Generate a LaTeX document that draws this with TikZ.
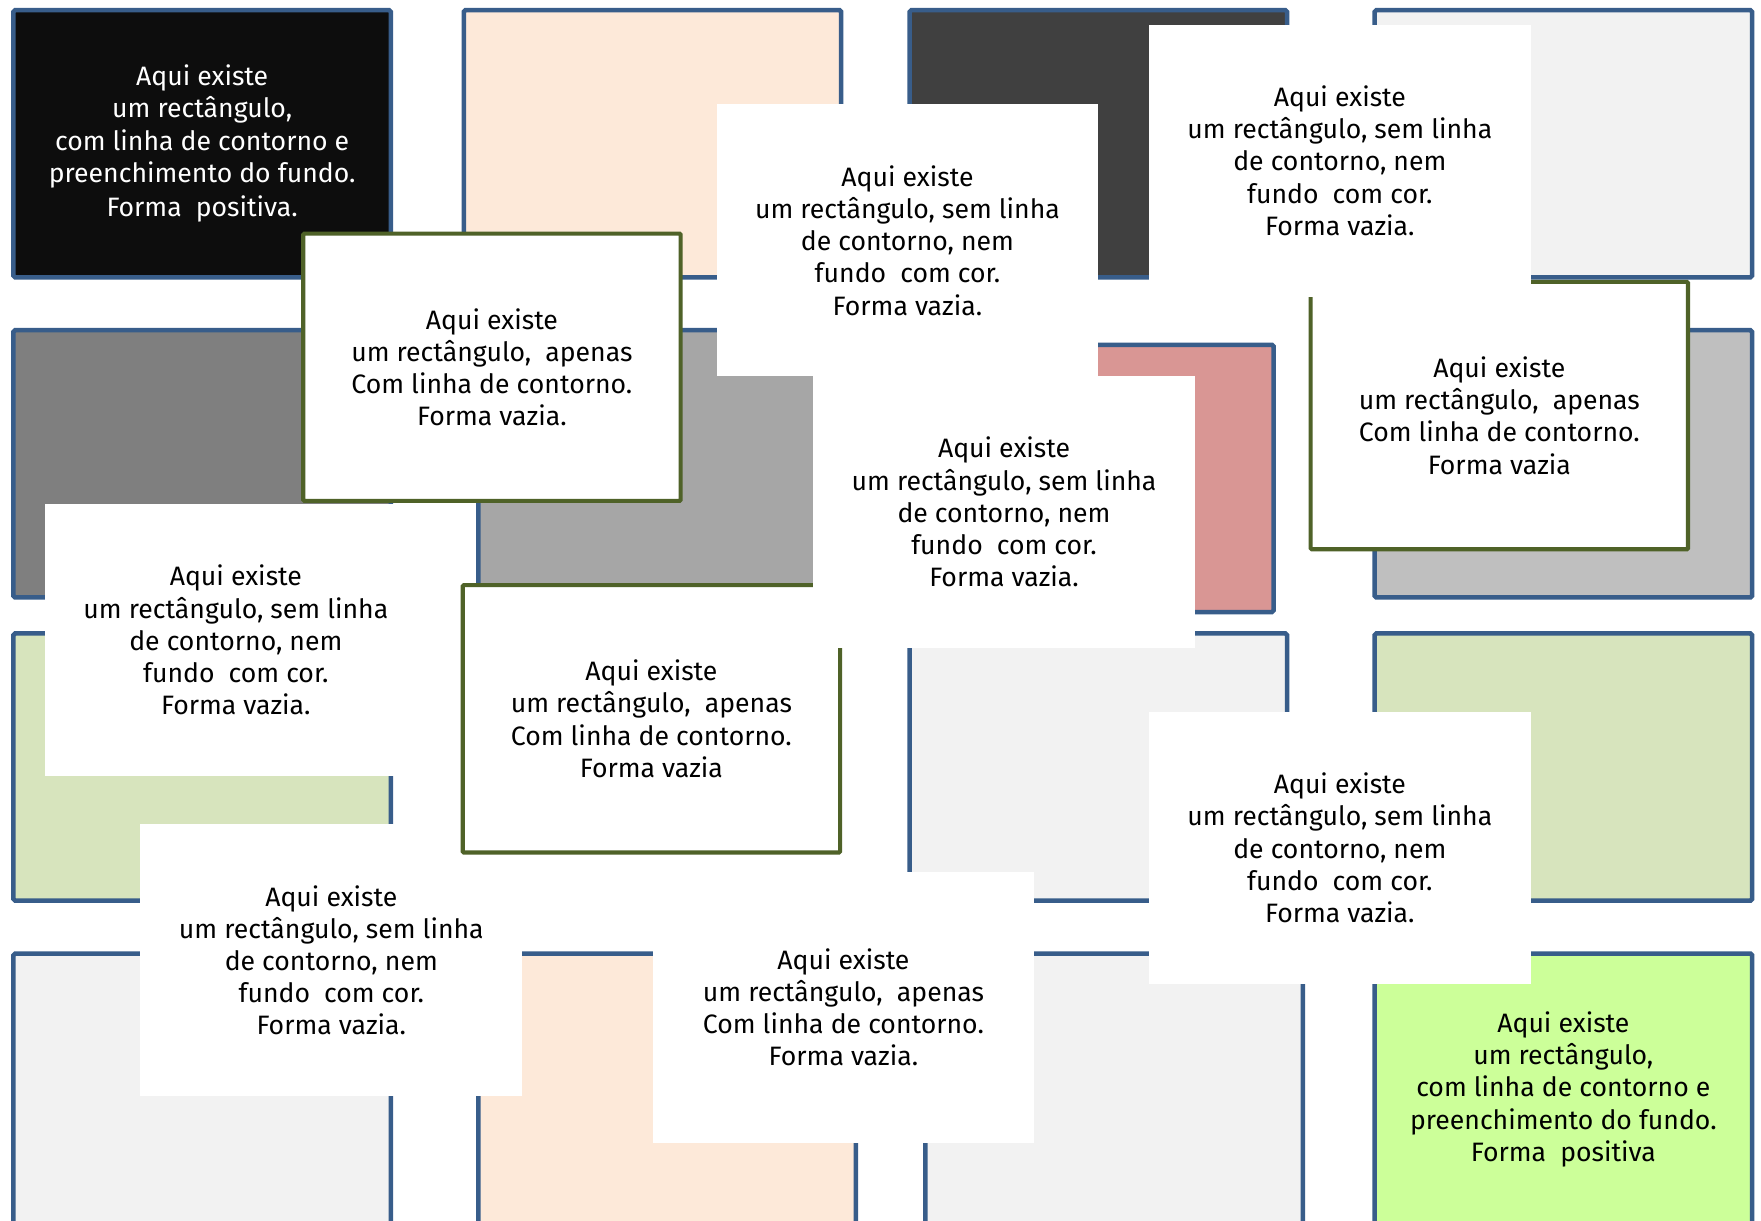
\documentclass[tikz,border=0pt]{standalone}
\usepackage{fontspec}
\setmainfont{Fira Sans}
\newcommand\txtfont{\fontsize{23.7}{28.7}\selectfont}
\definecolor{bblue}{HTML}{385D8A}
\definecolor{oborder}{HTML}{4F6228}
\definecolor{cblack}{HTML}{0D0D0D}
\definecolor{cpeach}{HTML}{FDE9D9}
\definecolor{cdark}{HTML}{404040}
\definecolor{clight}{HTML}{F2F2F2}
\definecolor{cgrayA}{HTML}{7F7F7F}
\definecolor{cgrayB}{HTML}{A6A6A6}
\definecolor{cpink}{HTML}{D99694}
\definecolor{cgrayC}{HTML}{BFBFBF}
\definecolor{cgreen}{HTML}{D7E4BD}
\definecolor{clime}{HTML}{CCFF99}
\begin{document}
\begin{tikzpicture}[x=1pt,y=-1pt,
  bg/.style={draw=bblue, line width=4pt, rounded corners=1.5pt, minimum width=336pt, minimum height=238pt, anchor=north west, inner sep=0pt, outer sep=0pt, align=center, font=\txtfont},
  bgbottom/.style={bg, minimum height=242pt},
  wbox/.style={fill=white, minimum width=340pt, minimum height=242pt, anchor=north west, inner sep=0pt, outer sep=0pt, align=center, font=\txtfont},
  obox/.style={fill=white, draw=oborder, line width=3.7pt, rounded corners=1pt, minimum width=336pt, minimum height=238pt, anchor=north west, inner sep=0pt, outer sep=0pt, align=center, font=\txtfont}]
\useasboundingbox (0,0) rectangle (1568,1087);
\clip (0,0) rectangle (1568,1087);
\fill[white] (0,0) rectangle (1568,1087);
% background grid
\node[bg, fill=cblack, text=white] (a1) at (12,9) {Aqui existe\\um rectângulo,\\com linha de contorno e\\preenchimento do fundo.\\[2pt]Forma~ positiva.};
\node[bg, fill=cpeach] (a2) at (413,9) {};
\node[bg, fill=cdark] (a3) at (810,9) {};
\node[bg, fill=clight] (a4) at (1224,9) {};
\node[bg, fill=cgrayA] (b1) at (12,294) {};
\node[bg, fill=cgrayB] (b2) at (426,294) {};
\node[bg, fill=cpink] (b3) at (798,307) {};
\node[bg, fill=cgrayC] (b4) at (1224,294) {};
\node[bg, fill=cgreen] (c1) at (12,564) {};
\node[bg, fill=clight] (c3) at (810,564) {};
\node[bg, fill=cgreen] (c4) at (1224,564) {};
\node[bgbottom, fill=clight] (d1) at (12,849) {};
\node[bgbottom, fill=cpeach] (d2) at (426,849) {};
\node[bgbottom, fill=clight] (d3) at (824,849) {};
\node[bgbottom, fill=clime] (d4) at (1224,849) {Aqui existe\\um rectângulo,\\com linha de contorno e\\preenchimento do fundo.\\Forma~ positiva};
% foreground boxes
\node[obox] (o1) at (270,208) {Aqui existe\\um rectângulo,~ apenas\\Com linha de contorno.\\Forma vazia.};
\node[obox] (o2) at (1167,251) {Aqui existe\\um rectângulo,~ apenas\\Com linha de contorno.\\Forma vazia};
\node[wbox] (w1) at (638,93) {Aqui existe\\um rectângulo, sem linha\\de contorno, nem\\fundo~ com cor.\\Forma vazia.};
\node[wbox] (w2) at (1023,22) {Aqui existe\\um rectângulo, sem linha\\de contorno, nem\\fundo~ com cor.\\Forma vazia.};
\node[wbox] (w4) at (40,449) {Aqui existe\\um rectângulo, sem linha\\de contorno, nem\\fundo~ com cor.\\Forma vazia.};
\node[wbox] (w5) at (125,734) {Aqui existe\\um rectângulo, sem linha\\de contorno, nem\\fundo~ com cor.\\Forma vazia.};
\node[obox] (o3) at (412,521) {Aqui existe\\um rectângulo,~ apenas\\Com linha de contorno.\\Forma vazia};
\node[wbox] (w3) at (724,335) {Aqui existe\\um rectângulo, sem linha\\de contorno, nem\\fundo~ com cor.\\Forma vazia.};
\node[wbox] (w6) at (1023,634) {Aqui existe\\um rectângulo, sem linha\\de contorno, nem\\fundo~ com cor.\\Forma vazia.};
\node[wbox] (w7) at (581,776) {Aqui existe\\um rectângulo,~ apenas\\Com linha de contorno.\\Forma vazia.};
\end{tikzpicture}
\end{document}
